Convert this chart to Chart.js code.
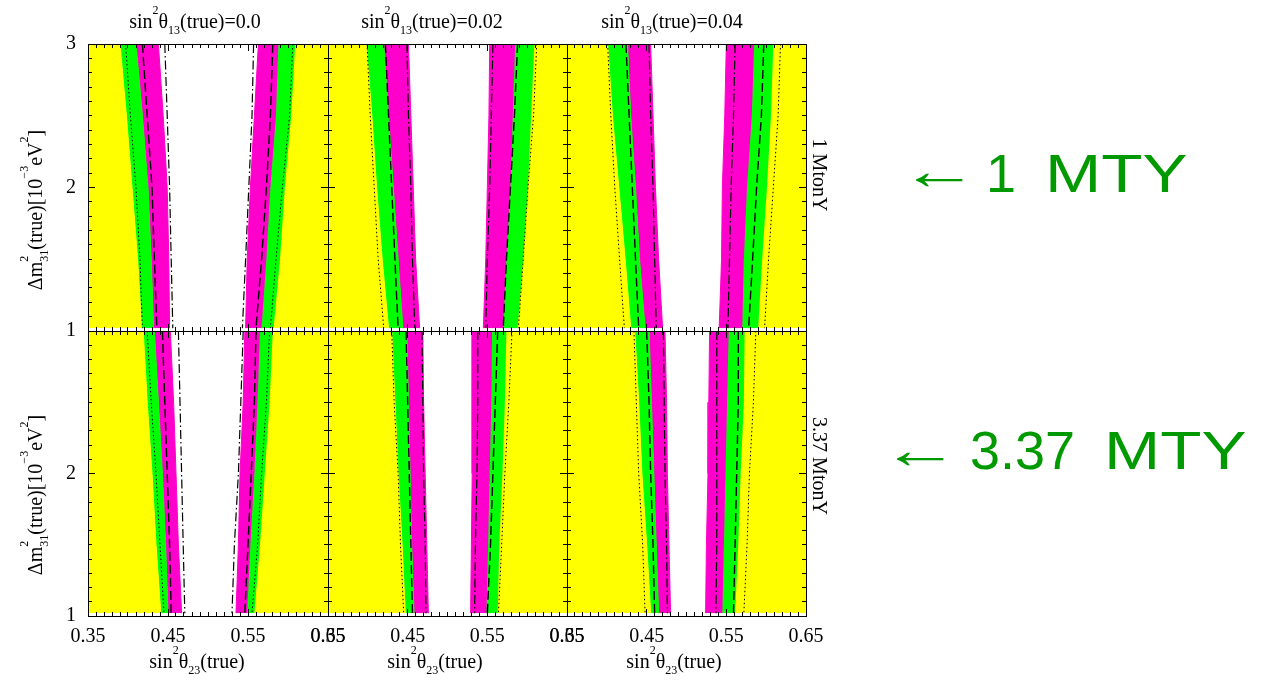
<!DOCTYPE html>
<html>
<head>
<meta charset="utf-8">
<title>sin²θ23 octant sensitivity</title>
<script src="https://cdn.jsdelivr.net/npm/chart.js@4.4.1/dist/chart.umd.min.js"></script>
<style>
  body { margin: 0; background: #fff; }
  #wrap { position: relative; width: 1268px; height: 681px; overflow: hidden; background: #fff; }
  #wrap canvas { position: absolute; left: 0; top: 0; }
  .lbl { position: absolute; font-family: 'Liberation Serif', 'Times New Roman', serif; font-size: 20px; line-height: 20px; white-space: nowrap; color: #000; }
  .lbl sup, .lbl sub { font-size: 0.6em; line-height: 0; position: relative; vertical-align: baseline; }
  .lbl sup { top: -1.15em; }
  .lbl sub { top: 0.5em; }
  .lbl sub.stack { margin-left: -6px; }
  .note { position: absolute; font-family: 'Liberation Sans', Arial, sans-serif; font-size: 54px; line-height: 54px; color: #009a00; white-space: nowrap; }
  .note.arrow { transform: scaleX(1.45); transform-origin: left center; }
  .note .mty { display: inline-block; transform: scaleX(1.25); transform-origin: left center; margin-left: 14px; }
</style>
</head>
<body>
<div id="wrap"></div>
<script>
// Δm²31(true) levels where the contour edges are sampled, bottom to top
const dm31Levels = [1.02, 1.5, 2.0, 2.5, 3.0];
const xTicks = [0.35, 0.45, 0.55, 0.65];
const yTicks = [1, 2, 3];
const theta13Values = ['0.0', '0.02', '0.04'];
const exposures = ['1 MtonY', '3.37 MtonY'];
const noteValues = ['1', '3.37'];

// sin²θ23 of each edge, one row per panel:
// 1 MtonY (θ13 = 0, 0.02, 0.04), then 3.37 MtonY (θ13 = 0, 0.02, 0.04)
const yellowLow = [
  [0.417, 0.412, 0.405, 0.398, 0.390],
  [0.426, 0.418, 0.411, 0.405, 0.398],
  [0.430, 0.423, 0.415, 0.407, 0.401],
  [0.441, 0.435, 0.430, 0.424, 0.419],
  [0.447, 0.443, 0.438, 0.434, 0.430],
  [0.455, 0.450, 0.444, 0.440, 0.435],
];
const greenLow = [
  [0.432, 0.429, 0.425, 0.418, 0.410],
  [0.444, 0.438, 0.432, 0.426, 0.420],
  [0.448, 0.441, 0.436, 0.430, 0.426],
  [0.450, 0.447, 0.443, 0.438, 0.433],
  [0.458, 0.455, 0.453, 0.451, 0.449],
  [0.465, 0.462, 0.459, 0.456, 0.453],
];
const magentaLow = [
  [0.452, 0.451, 0.449, 0.444, 0.438],
  [0.465, 0.460, 0.457, 0.454, 0.451],
  [0.470, 0.465, 0.461, 0.458, 0.455],
  [0.467, 0.463, 0.460, 0.457, 0.453],
  [0.476, 0.474, 0.472, 0.470, 0.469],
  [0.480, 0.478, 0.476, 0.475, 0.473],
];
const magentaHigh = [
  [0.547, 0.549, 0.553, 0.558, 0.563],
  [0.545, 0.548, 0.550, 0.552, 0.553],
  [0.541, 0.544, 0.545, 0.548, 0.550],
  [0.535, 0.538, 0.540, 0.544, 0.546],
  [0.529, 0.530, 0.531, 0.531, 0.531],
  [0.524, 0.525, 0.527, 0.528, 0.529],
];
const greenHigh = [
  [0.567, 0.573, 0.578, 0.585, 0.588],
  [0.570, 0.574, 0.579, 0.582, 0.585],
  [0.570, 0.572, 0.576, 0.582, 0.585],
  [0.549, 0.553, 0.558, 0.562, 0.565],
  [0.549, 0.551, 0.553, 0.555, 0.556],
  [0.545, 0.547, 0.549, 0.551, 0.553],
];
const yellowHigh = [
  [0.582, 0.590, 0.596, 0.604, 0.609],
  [0.588, 0.595, 0.601, 0.605, 0.609],
  [0.590, 0.595, 0.601, 0.606, 0.609],
  [0.558, 0.565, 0.571, 0.577, 0.581],
  [0.563, 0.565, 0.569, 0.572, 0.574],
  [0.561, 0.565, 0.568, 0.572, 0.573],
];
const dottedLow = [
  [0.418, 0.415, 0.410, 0.403, 0.397],
  [0.420, 0.413, 0.408, 0.403, 0.399],
  [0.422, 0.416, 0.410, 0.405, 0.401],
  [0.445, 0.440, 0.435, 0.429, 0.424],
  [0.445, 0.441, 0.438, 0.433, 0.430],
  [0.448, 0.445, 0.440, 0.437, 0.434],
];
const dashedLow = [
  [0.436, 0.433, 0.430, 0.424, 0.418],
  [0.438, 0.434, 0.430, 0.426, 0.422],
  [0.440, 0.436, 0.432, 0.428, 0.424],
  [0.454, 0.452, 0.449, 0.446, 0.443],
  [0.456, 0.454, 0.452, 0.450, 0.448],
  [0.460, 0.458, 0.455, 0.453, 0.450],
];
const dashDotLow = [
  [0.456, 0.454, 0.452, 0.449, 0.446],
  [0.459, 0.456, 0.454, 0.451, 0.449],
  [0.462, 0.460, 0.458, 0.455, 0.453],
  [0.471, 0.469, 0.467, 0.465, 0.463],
  [0.473, 0.472, 0.470, 0.469, 0.468],
  [0.476, 0.475, 0.473, 0.472, 0.471],
];
const dashDotHigh = [
  [0.543, 0.547, 0.551, 0.555, 0.557],
  [0.548, 0.550, 0.553, 0.555, 0.557],
  [0.552, 0.554, 0.556, 0.559, 0.561],
  [0.530, 0.533, 0.538, 0.541, 0.544],
  [0.534, 0.535, 0.537, 0.538, 0.538],
  [0.537, 0.538, 0.538, 0.538, 0.538],
];
const dashedHigh = [
  [0.560, 0.567, 0.573, 0.578, 0.581],
  [0.570, 0.574, 0.579, 0.584, 0.588],
  [0.578, 0.583, 0.588, 0.594, 0.597],
  [0.546, 0.550, 0.554, 0.558, 0.560],
  [0.550, 0.554, 0.557, 0.560, 0.563],
  [0.559, 0.561, 0.563, 0.565, 0.565],
];
const dottedHigh = [
  [0.578, 0.585, 0.593, 0.602, 0.606],
  [0.589, 0.595, 0.601, 0.608, 0.612],
  [0.598, 0.603, 0.609, 0.615, 0.618],
  [0.555, 0.562, 0.567, 0.573, 0.577],
  [0.564, 0.568, 0.572, 0.577, 0.581],
  [0.572, 0.576, 0.579, 0.584, 0.587],
];

// panel frame edges on the page
const cols = [88, 328, 567, 806];
const rows = [44, 331, 616];
// room kept for the tick labels of the outer panels
const yLabelRoom = 60;
const xLabelRoom = 50;

const serif = "'Liberation Serif', 'Times New Roman', serif";
const YELLOW = '#ffff00';
const GREEN = '#00ff00';
const MAGENTA = '#ff00cc';

const wrap = document.getElementById('wrap');

// points run top to bottom so pixel y grows along each edge
function edge(xs) {
  return xs.map((x, i) => ({ x, y: dm31Levels[i] })).reverse();
}

// the band's own edge is stroked in its colour to hide fill seams
function band(xs, color, fill) {
  return {
    data: edge(xs), fill, backgroundColor: color,
    borderColor: color, borderWidth: 1, pointRadius: 0, order: 2,
  };
}

function curve(xs, dash, width) {
  return {
    data: edge(xs), fill: false, borderColor: '#000', borderWidth: width,
    borderDash: dash, borderCapStyle: 'butt', pointRadius: 0, order: 1,
  };
}

// fixed box size so the frame lands exactly where the padding puts it
const fixedSize = (size) => (s) => {
  if (s.isHorizontal()) s.height = size;
  else s.width = size;
};

function tickAxis(axis, position, major, labels, room) {
  const horiz = axis === 'x';
  const scale = {
    type: 'linear', axis, position,
    weight: major ? 1 : 0,
    min: horiz ? 0.35 : 1, max: horiz ? 0.65 : 3,
    afterFit: fixedSize(labels ? room : 0),
    grid: { drawOnChartArea: false, tickLength: major ? -7 : -4, color: '#000', tickColor: '#000', tickWidth: 1, z: 1 },
    border: { display: major, color: '#000', width: 1, z: 1 },
    ticks: { display: false, autoSkip: false, maxRotation: 0, minRotation: 0 },
  };
  if (major) {
    const vals = horiz ? xTicks : yTicks;
    scale.afterBuildTicks = (s) => { s.ticks = vals.map((value) => ({ value })); };
  } else {
    scale.ticks.stepSize = horiz ? 0.01 : 0.1;
  }
  if (labels) {
    Object.assign(scale.ticks, labels, { display: true, color: '#000', font: { family: serif, size: 20 } });
  }
  return scale;
}

for (let i = 0; i < 6; i++) {
  const row = Math.floor(i / 3);
  const col = i % 3;

  const canvas = document.createElement('canvas');
  canvas.width = 1268;
  canvas.height = 681;
  wrap.appendChild(canvas);

  const datasets = [
    band(yellowLow[i], YELLOW, { value: 0.35 }),
    band(greenLow[i], GREEN, 0),
    band(magentaLow[i], MAGENTA, 1),
    band(magentaHigh[i], MAGENTA, 4),
    band(greenHigh[i], GREEN, 5),
    band(yellowHigh[i], YELLOW, { value: 0.65 }),
    curve(dottedLow[i], [1.5, 2.5], 1),
    curve(dottedHigh[i], [1.5, 2.5], 1),
    curve(dashedLow[i], [9, 4], 1.4),
    curve(dashedHigh[i], [9, 4], 1.4),
    curve(dashDotLow[i], [9, 3, 1.5, 3], 1.2),
    curve(dashDotHigh[i], [9, 3, 1.5, 3], 1.2),
  ];

  const xLabels = row === 1 ? { padding: 16, callback: (v) => v.toFixed(2) } : null;
  const yLabels = col === 0
    ? { padding: 19, callback: (v) => (row === 1 && v === 3 ? '' : String(v)) }
    : null;

  const padLeft = cols[col] - (yLabels ? yLabelRoom : 0);
  const padBottom = 681 - rows[row + 1] - (xLabels ? xLabelRoom : 0);

  new Chart(canvas, {
    type: 'line',
    data: { datasets },
    options: {
      indexAxis: 'y',
      responsive: false,
      animation: false,
      events: [],
      layout: {
        padding: { left: padLeft, right: 1268 - cols[col + 1], top: rows[row], bottom: padBottom },
      },
      plugins: { legend: { display: false }, tooltip: { enabled: false }, title: { display: false } },
      scales: {
        x: tickAxis('x', 'bottom', true, xLabels, xLabelRoom),
        y: tickAxis('y', 'left', true, yLabels, yLabelRoom),
        xMinor: tickAxis('x', 'bottom', false),
        xTop: tickAxis('x', 'top', true),
        xTopMinor: tickAxis('x', 'top', false),
        yMinor: tickAxis('y', 'left', false),
        yRight: tickAxis('y', 'right', true),
        yRightMinor: tickAxis('y', 'right', false),
      },
    },
  });
}

function addText(cls, html, style) {
  const d = document.createElement('div');
  d.className = cls;
  d.innerHTML = html;
  Object.assign(d.style, style);
  wrap.appendChild(d);
}

const titleCenters = [195, 432, 672];
const xTitleCenters = [197, 435, 674];

theta13Values.forEach((v, c) => {
  addText('lbl', `sin<sup>2</sup>θ<sub>13</sub>(true)=${v}`,
    { left: titleCenters[c] + 'px', top: '11px', transform: 'translateX(-50%)' });
  addText('lbl', 'sin<sup>2</sup>θ<sub>23</sub>(true)',
    { left: xTitleCenters[c] + 'px', top: '651px', transform: 'translateX(-50%)' });
});

[210, 495].forEach((cy) => {
  addText('lbl', 'Δm<sup>2</sup><sub class="stack">31</sub>(true)[10<sup>−3</sup>eV<sup>2</sup>]',
    { left: '35px', top: cy + 'px', transform: 'translate(-50%, -50%) rotate(-90deg)' });
});

[175, 466].forEach((cy, r) => {
  addText('lbl', exposures[r],
    { left: '820px', top: cy + 'px', transform: 'translate(-50%, -50%) rotate(90deg)' });
});

// exposure notes beside each row: arrow, then the value
[[900, 143, 986, 146], [881, 422, 970, 423]].forEach(([ax, ay, tx, ty], r) => {
  addText('note arrow', '←', { left: ax + 'px', top: ay + 'px' });
  addText('note', `${noteValues[r]} <span class="mty">MTY</span>`, { left: tx + 'px', top: ty + 'px' });
});
</script>
</body>
</html>
